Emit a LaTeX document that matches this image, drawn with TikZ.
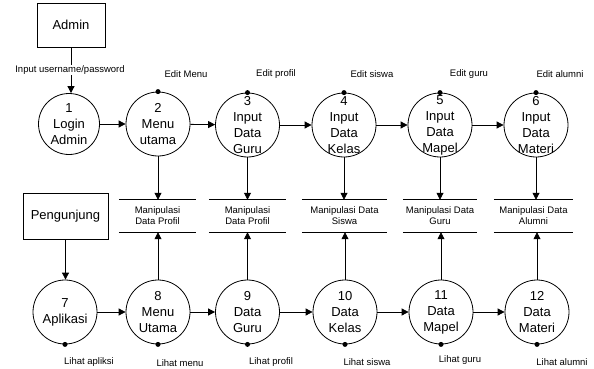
\documentclass[tikz,border=0pt]{standalone}
\usepackage{fontspec}
\setmainfont{Liberation Sans}
\usetikzlibrary{arrows.meta}
\begin{document}
\begin{tikzpicture}[x=1pt,y=-1pt,
  proc/.style={draw,circle,minimum size=64pt,inner sep=0pt,line width=0.8pt},
  ptext/.style={align=center,font=\fontsize{13}{16}\selectfont,inner sep=0pt},
  entity/.style={draw,rectangle,line width=0.8pt,font=\fontsize{13}{15}\selectfont,inner sep=0pt},
  store/.style={rectangle,minimum height=32pt,align=center,inner sep=0pt,font=\fontsize{9.5}{11}\selectfont},
  lbl/.style={font=\fontsize{9.5}{11}\selectfont,inner sep=1pt},
  flow/.style={line width=0.8pt,-{Triangle[length=7pt,width=7pt]}},
  dot/.style={circle,fill=black,inner sep=0pt,minimum size=5pt}
]
\useasboundingbox (0,0) rectangle (594,369);
% entities
\node[entity,minimum width=68pt,minimum height=44pt] (admin) at (71,25) {Admin};
\node[entity,minimum width=85pt,minimum height=46pt] (peng) at (65.5,216) {Pengunjung};
% top processes
\node[proc,minimum size=61pt] (c1) at (69,124) {};
\node[proc] (c2) at (158,124) {};
\node[proc] (c3) at (247.5,125) {};
\node[proc] (c4) at (344,125) {};
\node[proc] (c5) at (440,125) {};
\node[proc] (c6) at (536,125) {};
\node[ptext] (t1) at (c1) {1\\Login\\Admin};
\node[ptext] (t2) at (c2) {2\\Menu\\utama};
\node[ptext] (t3) at (c3) {3\\Input\\Data\\Guru};
\node[ptext] (t4) at (c4) {4\\Input\\Data\\Kelas};
\node[ptext] (t5) at (c5) {5\\Input\\Data\\Mapel};
\node[ptext] (t6) at (c6) {6\\Input\\Data\\Materi};
% bottom processes
\node[proc] (c7) at (65,312) {};
\node[proc] (c8) at (158,312) {};
\node[proc] (c9) at (247.5,312) {};
\node[proc] (c10) at (345,312) {};
\node[proc] (c11) at (441,312) {};
\node[proc] (c12) at (537,312) {};
\node[ptext] (t7) at (c7) {7\\Aplikasi};
\node[ptext] (t8) at (c8) {8\\Menu\\Utama};
\node[ptext] (t9) at (c9) {9\\Data\\Guru};
\node[ptext] (t10) at (c10) {10\\Data\\Kelas};
\node[ptext] (t11) at (c11) {11\\Data\\Mapel};
\node[ptext] (t12) at (c12) {12\\Data\\Materi};
% stores
\node[store,minimum width=77pt] (s1) at (157.5,216) {Manipulasi\\Data Profil};
\node[store,minimum width=77pt] (s2) at (247.5,216) {Manipulasi\\Data Profil};
\node[store,minimum width=85pt] (s3) at (344.5,216) {Manipulasi Data\\Siswa};
\node[store,minimum width=74pt] (s4) at (440,216) {Manipulasi Data\\Guru};
\node[store,minimum width=79pt] (s5) at (533.5,216) {Manipulasi Data\\Alumni};
\foreach \s in {s1,s2,s3,s4,s5}{
  \draw[line width=0.8pt] (\s.north west) -- (\s.north east);
  \draw[line width=0.8pt] (\s.south west) -- (\s.south east);
}
% admin flow
\draw[flow] (admin.south) -- (admin.south |- c1.north);
\node[lbl,fill=white] (lin) at (70,70) {Input username/password};
\draw[flow] (peng.south) -- (peng.south |- c7.north);
% horizontal flows
\draw[flow] (c1) -- (c2);
\draw[flow] (c2) -- (c3);
\draw[flow] (c3) -- (c4);
\draw[flow] (c4) -- (c5);
\draw[flow] (c5) -- (c6);
\draw[flow] (c7) -- (c8);
\draw[flow] (c8) -- (c9);
\draw[flow] (c9) -- (c10);
\draw[flow] (c10) -- (c11);
\draw[flow] (c11) -- (c12);
% vertical flows to stores
\draw[flow] (c2.south) -- (c2.south |- s1.north);
\draw[flow] (c3.south) -- (c3.south |- s2.north);
\draw[flow] (c4.south) -- (c4.south |- s3.north);
\draw[flow] (c5.south) -- (c5.south |- s4.north);
\draw[flow] (c6.south) -- (c6.south |- s5.north);
\draw[flow] (c8.north) -- (c8.north |- s1.south);
\draw[flow] (c9.north) -- (c9.north |- s2.south);
\draw[flow] (c10.north) -- (c10.north |- s3.south);
\draw[flow] (c11.north) -- (c11.north |- s4.south);
\draw[flow] (c12.north) -- (c12.north |- s5.south);
% dots
\foreach \c in {c2,c3,c4,c5,c6}{ \node[dot] at (\c.north) {}; }
\foreach \c in {c7,c8,c9,c10,c11,c12}{ \node[dot] at (\c.south) {}; }
% edit labels
\node[lbl] (e2) at (186,74) {Edit Menu};
\node[lbl] (e3) at (276,74) {Edit profil};
\node[lbl] (e4) at (372,74) {Edit siswa};
\node[lbl] (e5) at (469,74) {Edit guru};
\node[lbl] (e6) at (560,74) {Edit alumni};
% lihat labels
\node[lbl] (l7) at (89,362) {Lihat apliksi};
\node[lbl] (l8) at (180,363) {Lihat menu};
\node[lbl] (l9) at (271,362) {Lihat profil};
\node[lbl] (l10) at (367,362) {Lihat siswa};
\node[lbl] (l11) at (460,360) {Lihat guru};
\node[lbl] (l12) at (562,362) {Lihat alumni};
\end{tikzpicture}
\end{document}
